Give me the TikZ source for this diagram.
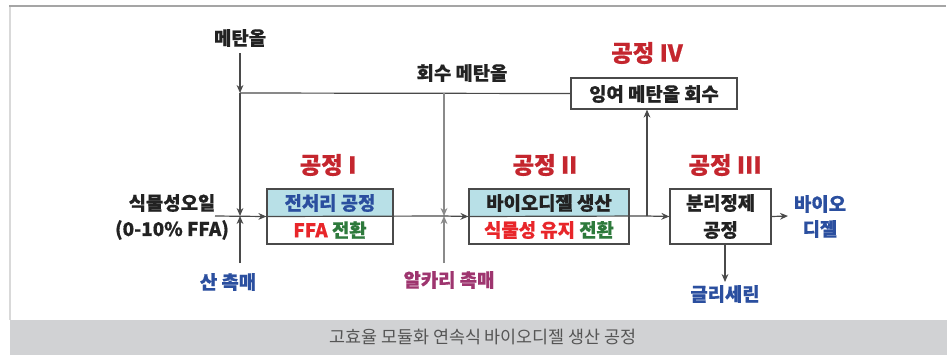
\documentclass[tikz,border=0pt]{standalone}
\usepackage{fontspec}
\setmainfont{Noto Sans CJK KR}[BoldFeatures={FakeBold=0.6}]
\usetikzlibrary{arrows.meta}
\definecolor{ink}{HTML}{222222}
\definecolor{ln}{HTML}{4A4A4A}
\definecolor{lngray}{HTML}{8A8A8A}
\definecolor{ttl}{HTML}{C4262E}
\definecolor{blu}{HTML}{2B4F9F}
\definecolor{rd}{HTML}{E8262A}
\definecolor{grn}{HTML}{2E7A3C}
\definecolor{pur}{HTML}{9E356F}
\definecolor{cyanfill}{HTML}{B8E0E7}
\definecolor{capbar}{HTML}{D1D2D4}
\definecolor{captxt}{HTML}{555555}
\definecolor{frameL}{HTML}{D9D9D9}
\definecolor{frameT}{HTML}{A5A5A5}
\tikzset{
  x=0.5pt, y=-0.5pt,
  lbl/.style={font=\fontsize{9.4}{11.5}\selectfont\bfseries, text=ink, inner sep=0pt, align=center},
  ttlbl/.style={font=\fontsize{11.7}{13}\selectfont\bfseries, text=ttl, inner sep=0pt},
  conn/.style={draw=ln, line width=0.6pt},
  conngray/.style={draw=lngray, line width=0.7pt},
  tip/.style={-{Stealth[length=4pt,width=3.4pt]}},
  boxline/.style={draw=ln, line width=0.6pt},
}
\begin{document}
\begin{tikzpicture}
\useasboundingbox (0,0) rectangle (947,355);
% frame
\fill[capbar] (10,320) rectangle (947,355);
\draw[frameL, line width=1pt] (10,6) -- (10,320);
\draw[frameT, line width=0.6pt] (9,6) -- (946,6);
\node[font=\fontsize{8.7}{10}\selectfont, text=captxt, inner sep=0pt] (cap) at (483,337) {고효율 모듈화 연속식 바이오디젤 생산 공정};

% boxes
\fill[cyanfill] (267,189) rectangle (393,216);
\fill[white] (267,216) rectangle (393,244);
\fill[cyanfill] (469,189) rectangle (629,216);
\fill[white] (469,216) rectangle (629,244);
\node[boxline, minimum width=63pt, minimum height=27.5pt, inner sep=0pt] (b1) at (330,216.5) {};
\node[boxline, minimum width=80pt, minimum height=27.5pt, inner sep=0pt] (b2) at (549,216.5) {};
\node[boxline, fill=white, minimum width=50.5pt, minimum height=27.5pt, inner sep=0pt] (b3) at (720.5,216.5) {};
\node[boxline, fill=white, minimum width=83pt, minimum height=15.5pt, inner sep=0pt] (b4) at (654,93.5) {};

% box texts
\node[lbl, text=blu] (t1a) at (330,203) {전처리 공정};
\node[lbl] (t1b) at (330,230) {\textcolor{rd}{FFA} \textcolor{grn}{전환}};
\node[lbl] (t2a) at (549,203) {바이오디젤 생산};
\node[lbl] (t2b) at (549,230) {\textcolor{rd}{식물성 유지} \textcolor{grn}{전환}};
\node[lbl] (t3a) at (720.5,203) {분리정제};
\node[lbl] (t3b) at (720.5,230) {공정};
\node[lbl] (t4) at (654,94) {잉여 메탄올 회수};

% titles
\node[ttlbl] (p1) at (328,165) {공정 I};
\node[ttlbl] (p2) at (545,165) {공정 II};
\node[ttlbl] (p3) at (725,165) {공정 III};
\node[ttlbl] (p4) at (647,53) {공정 IV};

% outside labels
\node[lbl] (meoh) at (240,38) {메탄올};
\node[lbl] (rmeoh) at (462,73) {회수 메탄올};
\node[lbl] (oil1) at (172,203) {식물성오일};
\node[lbl] (oil2) at (172,230) {(0-10\% FFA)};
\node[lbl, text=blu] (acid) at (228,282) {산 촉매};
\node[lbl, text=pur] (alk) at (449,280) {알카리 촉매};
\node[lbl, text=blu, align=center] (bd) at (820,216.5) {바이오\\[1pt]디젤};
\node[lbl, text=blu] (gly) at (725,294) {글리세린};

% coordinates
\coordinate (mtop) at (240,53);
\coordinate (jA) at (240,93);
\coordinate (jB) at (240,216);
\coordinate (abot) at (240,263);
\coordinate (jC) at (444,93);
\coordinate (jD) at (444,216);
\coordinate (kbot) at (444,263);
\coordinate (jE) at (647,216);
\coordinate (oilst) at (215,216);
\coordinate (bdend) at (788,216);
\coordinate (glyend) at (725,282);

% connectors
\draw[conn, tip] (mtop) -- (jA);
\draw[conn, tip] (jA) -- (jB);
\draw[conn, tip] (abot) -- (jB);
\draw[conn] (jA) -- (b4.west);
\draw[conngray, tip] (jC) -- (jD);
\draw[conngray, tip] (kbot) -- (jD);
\draw[conn, tip] (oilst) -- (b1.west);
\draw[conn] (b1.west) -- (jD);
\draw[conn, tip] (jD) -- (b2.west);
\draw[conn] (b2.west) -- (jE);
\draw[conn, tip] (jE) -- (b3.west);
\draw[conn, tip] (jE) -- (b4.south -| jE);
\draw[conn, tip] (b3.east) -- (bdend);
\draw[conn, tip] (b3.south -| glyend) -- (glyend);
\end{tikzpicture}
\end{document}
